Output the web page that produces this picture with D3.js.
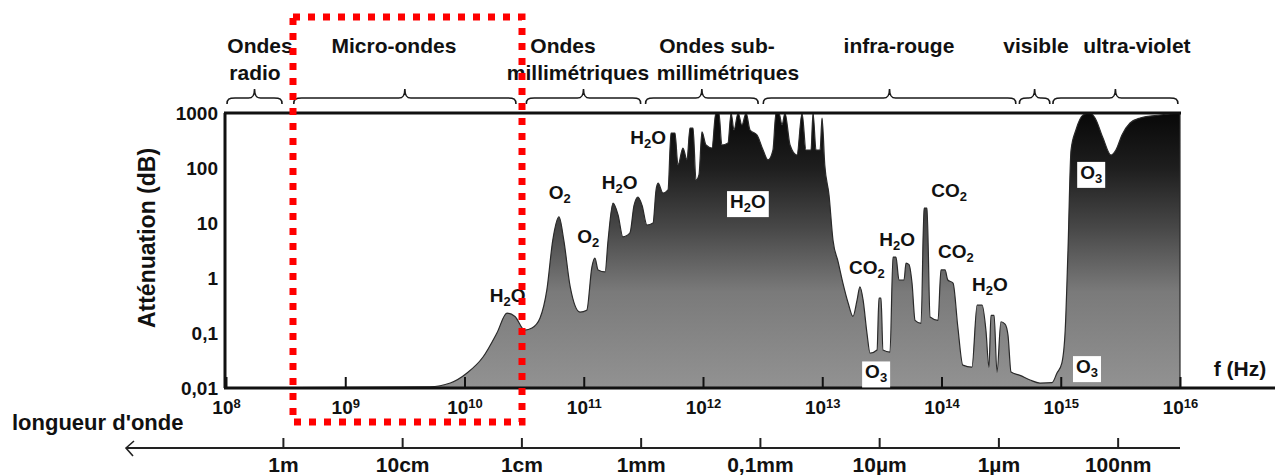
<!DOCTYPE html>
<html>
<head>
<meta charset="utf-8">
<script src="https://cdn.jsdelivr.net/npm/d3@7"></script>
<style>
body { margin: 0; background: #fff; }
text { font-family: "Liberation Sans", Arial, sans-serif; fill: #111; }
</style>
</head>
<body>
<div id="chart"></div>
<script>
var width = 1280, height = 475;

// attenuation spectrum (Hz, dB)
var freq = [1e8, 5.1e9, 7.6e9, 1.05e10, 1.43e10, 1.87e10, 2.27e10, 2.65e10, 3.2e10, 3.68e10,
    4.3e10, 4.9e10, 5.5e10, 6.2e10, 6.8e10, 7.7e10, 9.3e10, 1.06e11, 1.17e11, 1.24e11,
    1.32e11, 1.51e11, 1.6e11, 1.76e11, 1.94e11, 2.13e11, 2.44e11, 2.64e11, 2.85e11, 3.08e11,
    3.39e11, 3.81e11, 4.04e11, 4.2e11, 4.62e11, 5.09e11, 5.39e11, 5.82e11, 6.17e11, 6.79e11,
    7.34e11, 7.78e11, 8.25e11, 8.74e11, 9.25e11, 9.8e11, 1.06e12, 1.19e12, 1.28e12, 1.36e12,
    1.44e12, 1.62e12, 1.72e12, 1.82e12, 1.97e12, 2.12e12, 2.3e12, 2.48e12, 2.84e12, 3.19e12,
    3.51e12, 3.86e12, 4.09e12, 4.34e12, 4.6e12, 4.87e12, 5.37e12, 6.14e12, 6.77e12, 7.31e12,
    8.05e12, 8.37e12, 8.87e12, 9.59e12, 9.96e12, 1.05e13, 1.14e13, 1.23e13, 1.36e13, 1.49e13,
    1.65e13, 1.81e13, 1.96e13, 2.07e13, 2.2e13, 2.37e13, 2.52e13, 2.88e13, 2.99e13, 3.11e13,
    3.23e13, 3.7e13, 3.92e13, 4.15e13, 4.4e13, 4.85e13, 5.04e13, 5.34e13, 5.66e13, 6.0e13,
    6.74e13, 7.14e13, 7.56e13, 8.02e13, 9.35e13, 9.9e13, 1.07e14, 1.13e14, 1.25e14, 1.37e14,
    1.51e14, 1.8e14, 1.99e14, 2.19e14, 2.36e14, 2.5e14, 2.6e14, 2.76e14, 2.92e14, 3.15e14,
    3.41e14, 3.61e14, 3.83e14, 4.55e14, 5.52e14, 6.7e14, 8.45e14, 9.3e14, 1.02e15, 1.09e15,
    1.15e15, 1.22e15, 1.34e15, 1.54e15, 1.76e15, 1.94e15, 2.26e15, 2.64e15, 2.9e15, 3.26e15,
    3.81e15, 4.62e15, 6.8e15, 1e16];
var att = [0.01, 0.0105, 0.0123, 0.0187, 0.0366, 0.1, 0.23, 0.2, 0.113, 0.123,
    0.187, 0.6, 4.9, 12.9, 4.9, 0.69, 0.24, 0.26, 1.58, 2.3,
    1.4, 1.29, 4.9, 23, 14, 5.6, 6.6, 21, 29.7, 21,
    9.2, 10, 40, 53, 35, 40, 433, 433, 113, 231,
    140, 533, 533, 60, 75, 452, 262, 231, 1000, 1000,
    262, 285, 1000, 491, 1000, 605, 1000, 491, 398, 212,
    140, 212, 1000, 1000, 605, 1000, 262, 172, 1000, 212,
    212, 1000, 212, 212, 811, 113, 32, 4.9, 1.95, 0.81,
    0.35, 0.2, 0.4, 0.69, 0.4, 0.1, 0.043, 0.049, 0.43, 0.43,
    0.049, 0.045, 2.4, 2.4, 0.92, 0.92, 1.87, 1.75, 0.81, 0.17,
    0.15, 18.7, 18.7, 0.195, 0.17, 1.4, 1.4, 0.92, 0.81, 0.13,
    0.026, 0.024, 0.32, 0.32, 0.11, 0.024, 0.21, 0.21, 0.0195, 0.16,
    0.145, 0.092, 0.0195, 0.017, 0.014, 0.0123, 0.0125, 0.0187, 0.028, 0.113,
    3.2, 212, 491, 920, 1000, 811, 351, 172, 212, 398,
    658, 811, 920, 1000];

var yTicks = [0.01, 0.1, 1, 10, 100, 1000],
    yLabels = ["0,01", "0,1", "1", "10", "100", "1000"];
var fTicks = [1e8, 1e9, 1e10, 1e11, 1e12, 1e13, 1e14, 1e15, 1e16];
var wlTicks = [1, 0.1, 0.01, 1e-3, 1e-4, 1e-5, 1e-6, 1e-7],
    wlLabels = ["1m", "10cm", "1cm", "1mm", "0,1mm", "10µm", "1µm", "100nm"];

// spectral bands
var braceFrom = [1.02e8, 3.7e8, 3.3e10, 3.3e11, 3.2e12, 4.5e14, 8.6e14],
    braceTo = [2.95e8, 2.7e10, 3.0e11, 2.9e12, 4.2e14, 8.1e14, 9.6e15];
var bandText = ["Ondes", "radio", "Micro-ondes", "Ondes", "millimétriques", "Ondes sub-", "millimétriques", "infra-rouge", "visible", "ultra-violet"],
    bandFreq = [1.93e8, 1.75e8, 2.56e9, 6.7e10, 8.95e10, 1.31e12, 1.62e12, 4.4e13, 6.2e14, 4.35e15],
    bandRow = [0, 1, 0, 0, 1, 0, 1, 0, 0, 0];

// absorbing molecules
var molText = ["H2O", "O2", "O2", "H2O", "H2O", "H2O", "CO2", "H2O", "CO2", "CO2", "H2O", "O3", "O3", "O3"],
    molFreq = [2.3e10, 6.3e10, 1.09e11, 2.0e11, 3.46e11, 2.38e12, 2.37e13, 4.24e13, 1.16e14, 1.32e14, 2.55e14, 2.83e13, 1.8e15, 1.66e15],
    molDb = [0.49, 36.6, 5.8, 56, 366, 25, 1.6, 5.1, 40, 3.1, 0.78, 0.02, 85, 0.025],
    molBox = [0, 0, 0, 0, 0, 1, 0, 0, 0, 0, 0, 1, 1, 1];

var x = d3.scaleLog().domain([1e8, 1e16]).range([226, 1180]),
    y = d3.scaleLog().domain([0.01, 1000]).range([388, 113]),
    wl = d3.scaleLog().domain([3e8 / 1e8, 3e8 / 1e16]).range([226, 1180]);

var svg = d3.select("#chart").append("svg")
    .attr("width", width)
    .attr("height", height);

var grad = svg.append("defs").append("linearGradient")
    .attr("id", "fillgrad")
    .attr("gradientUnits", "userSpaceOnUse")
    .attr("x1", 0).attr("y1", y(1000)).attr("x2", 0).attr("y2", y(0.01));
[[0, "#080808"], [0.2, "#1e1e1e"], [0.42, "#484848"], [0.65, "#7a7a7a"], [1, "#929292"]].forEach(function(s) {
    grad.append("stop").attr("offset", s[0]).attr("stop-color", s[1]);
});

var pts = freq.map(function(f, i) { return [f, att[i]]; });

var area = d3.area()
    .x(function(d) { return x(d[0]); })
    .y0(y(0.01))
    .y1(function(d) { return y(d[1]); })
    .curve(d3.curveMonotoneX);

svg.append("path")
    .datum(pts)
    .attr("d", area)
    .attr("fill", "url(#fillgrad)")
    .attr("stroke", "#2a2a2a")
    .attr("stroke-width", 1.2);

drawFrame();
drawAxes();
drawBands();
drawMolecules();

// red dotted frame around micro-waves
svg.append("rect")
    .attr("x", 293).attr("y", 17)
    .attr("width", 229).attr("height", 405)
    .attr("fill", "none")
    .attr("stroke", "#ff0000")
    .attr("stroke-width", 7)
    .attr("stroke-dasharray", "7,8");


function drawFrame() {
    svg.append("line")
        .attr("x1", 224).attr("x2", 1181)
        .attr("y1", y(1000)).attr("y2", y(1000))
        .attr("stroke", "#111").attr("stroke-width", 3);
    svg.append("line")
        .attr("x1", 225).attr("x2", 225)
        .attr("y1", y(1000)).attr("y2", y(0.01))
        .attr("stroke", "#111").attr("stroke-width", 3);
    svg.append("line")
        .attr("x1", 224).attr("x2", 1275)
        .attr("y1", y(0.01)).attr("y2", y(0.01))
        .attr("stroke", "#111").attr("stroke-width", 3);
}


function drawAxes() {
    var yAxis = d3.axisLeft(y)
        .tickValues(yTicks)
        .tickSize(0)
        .tickPadding(7)
        .tickFormat(function(d, i) { return yLabels[i]; });
    var gy = svg.append("g").attr("transform", "translate(225,0)").call(yAxis);
    gy.select(".domain").remove();
    gy.selectAll("text")
        .attr("font-size", 19).attr("font-weight", "bold")
        .attr("font-family", "'Liberation Sans', Arial, sans-serif")
        .attr("fill", "#111");

    var xAxis = d3.axisBottom(x)
        .tickValues(fTicks)
        .tickSizeInner(-11).tickSizeOuter(0)
        .tickPadding(13)
        .tickFormat("");
    var gx = svg.append("g").attr("transform", "translate(0," + y(0.01) + ")").call(xAxis);
    gx.select(".domain").remove();
    gx.selectAll("line").attr("stroke", "#111").attr("stroke-width", 2);
    gx.selectAll("text").each(function(d) {
        var t = d3.select(this)
            .attr("font-size", 19).attr("font-weight", "bold")
            .attr("font-family", "'Liberation Sans', Arial, sans-serif")
            .attr("fill", "#111");
        t.append("tspan").text("10");
        t.append("tspan").attr("font-size", 13).attr("dy", "-0.5em")
            .text(Math.round(Math.log10(d)));
    });

    svg.append("text")
        .attr("transform", "translate(155,238) rotate(-90)")
        .attr("text-anchor", "middle")
        .attr("font-size", 23).attr("font-weight", "bold")
        .text("Atténuation (dB)");

    svg.append("text")
        .attr("x", 1240).attr("y", 376)
        .attr("text-anchor", "middle")
        .attr("font-size", 21).attr("font-weight", "bold")
        .text("f (Hz)");

    // wavelength axis
    var wAxis = d3.axisBottom(wl)
        .tickValues(wlTicks)
        .tickSizeInner(-10).tickSizeOuter(0)
        .tickPadding(9)
        .tickFormat(function(d, i) { return wlLabels[i]; });
    var gw = svg.append("g").attr("transform", "translate(0,448)").call(wAxis);
    gw.select(".domain").remove();
    gw.selectAll("line").attr("stroke", "#222").attr("stroke-width", 2);
    gw.selectAll("text")
        .attr("font-size", 21).attr("font-weight", "bold")
        .attr("font-family", "'Liberation Sans', Arial, sans-serif")
        .attr("fill", "#111");
    svg.append("line")
        .attr("x1", 126).attr("x2", 1180)
        .attr("y1", 448).attr("y2", 448)
        .attr("stroke", "#222").attr("stroke-width", 2);
    svg.append("path")
        .attr("d", "M134,441 L126,448 L133,456")
        .attr("fill", "none").attr("stroke", "#222").attr("stroke-width", 1.6);

    svg.append("text")
        .attr("x", 12).attr("y", 430)
        .attr("font-size", 22).attr("font-weight", "bold")
        .text("longueur d'onde");
}


function brace(x0, x1, yb) {
    var m = (x0 + x1) / 2, p = d3.path();
    p.moveTo(x0, yb + 6);
    p.bezierCurveTo(x0, yb + 1, x0 + 2, yb, x0 + 8, yb);
    p.lineTo(m - 6, yb);
    p.bezierCurveTo(m - 2, yb, m, yb - 2, m, yb - 9);
    p.bezierCurveTo(m, yb - 2, m + 2, yb, m + 6, yb);
    p.lineTo(x1 - 8, yb);
    p.bezierCurveTo(x1 - 2, yb, x1, yb + 1, x1, yb + 6);
    return p.toString();
}


function drawBands() {
    svg.selectAll(".brace")
        .data(braceFrom)
        .enter().append("path")
        .attr("class", "brace")
        .attr("d", function(d, i) { return brace(x(d), x(braceTo[i]), 98); })
        .attr("fill", "none")
        .attr("stroke", "#1a1a1a")
        .attr("stroke-width", 1.6);

    svg.selectAll(".band")
        .data(bandText)
        .enter().append("text")
        .attr("class", "band")
        .attr("x", function(d, i) { return x(bandFreq[i]); })
        .attr("y", function(d, i) { return bandRow[i] ? 80 : 53; })
        .attr("text-anchor", "middle")
        .attr("font-size", 21).attr("font-weight", "bold")
        .text(function(d) { return d; });
}


function drawMolecules() {
    molText.forEach(function(m, i) {
        var g = svg.append("g");
        var t = g.append("text")
            .attr("x", x(molFreq[i]))
            .attr("y", y(molDb[i]) + 7)
            .attr("text-anchor", "middle")
            .attr("font-size", 19)
            .attr("font-weight", "bold");
        m.split("").forEach(function(c, k) {
            if (/[0-9]/.test(c)) {
                t.append("tspan").attr("font-size", 13).attr("dy", 4).text(c);
            } else {
                var s = t.append("tspan").text(c);
                if (k > 0 && /[0-9]/.test(m[k - 1])) s.attr("dy", -4);
            }
        });
        if (molBox[i]) {
            var b = t.node().getBBox();
            g.insert("rect", "text")
                .attr("x", b.x - 3).attr("y", b.y)
                .attr("width", b.width + 6).attr("height", b.height + 2)
                .attr("fill", "#fff");
        }
    });
}
</script>
</body>
</html>
